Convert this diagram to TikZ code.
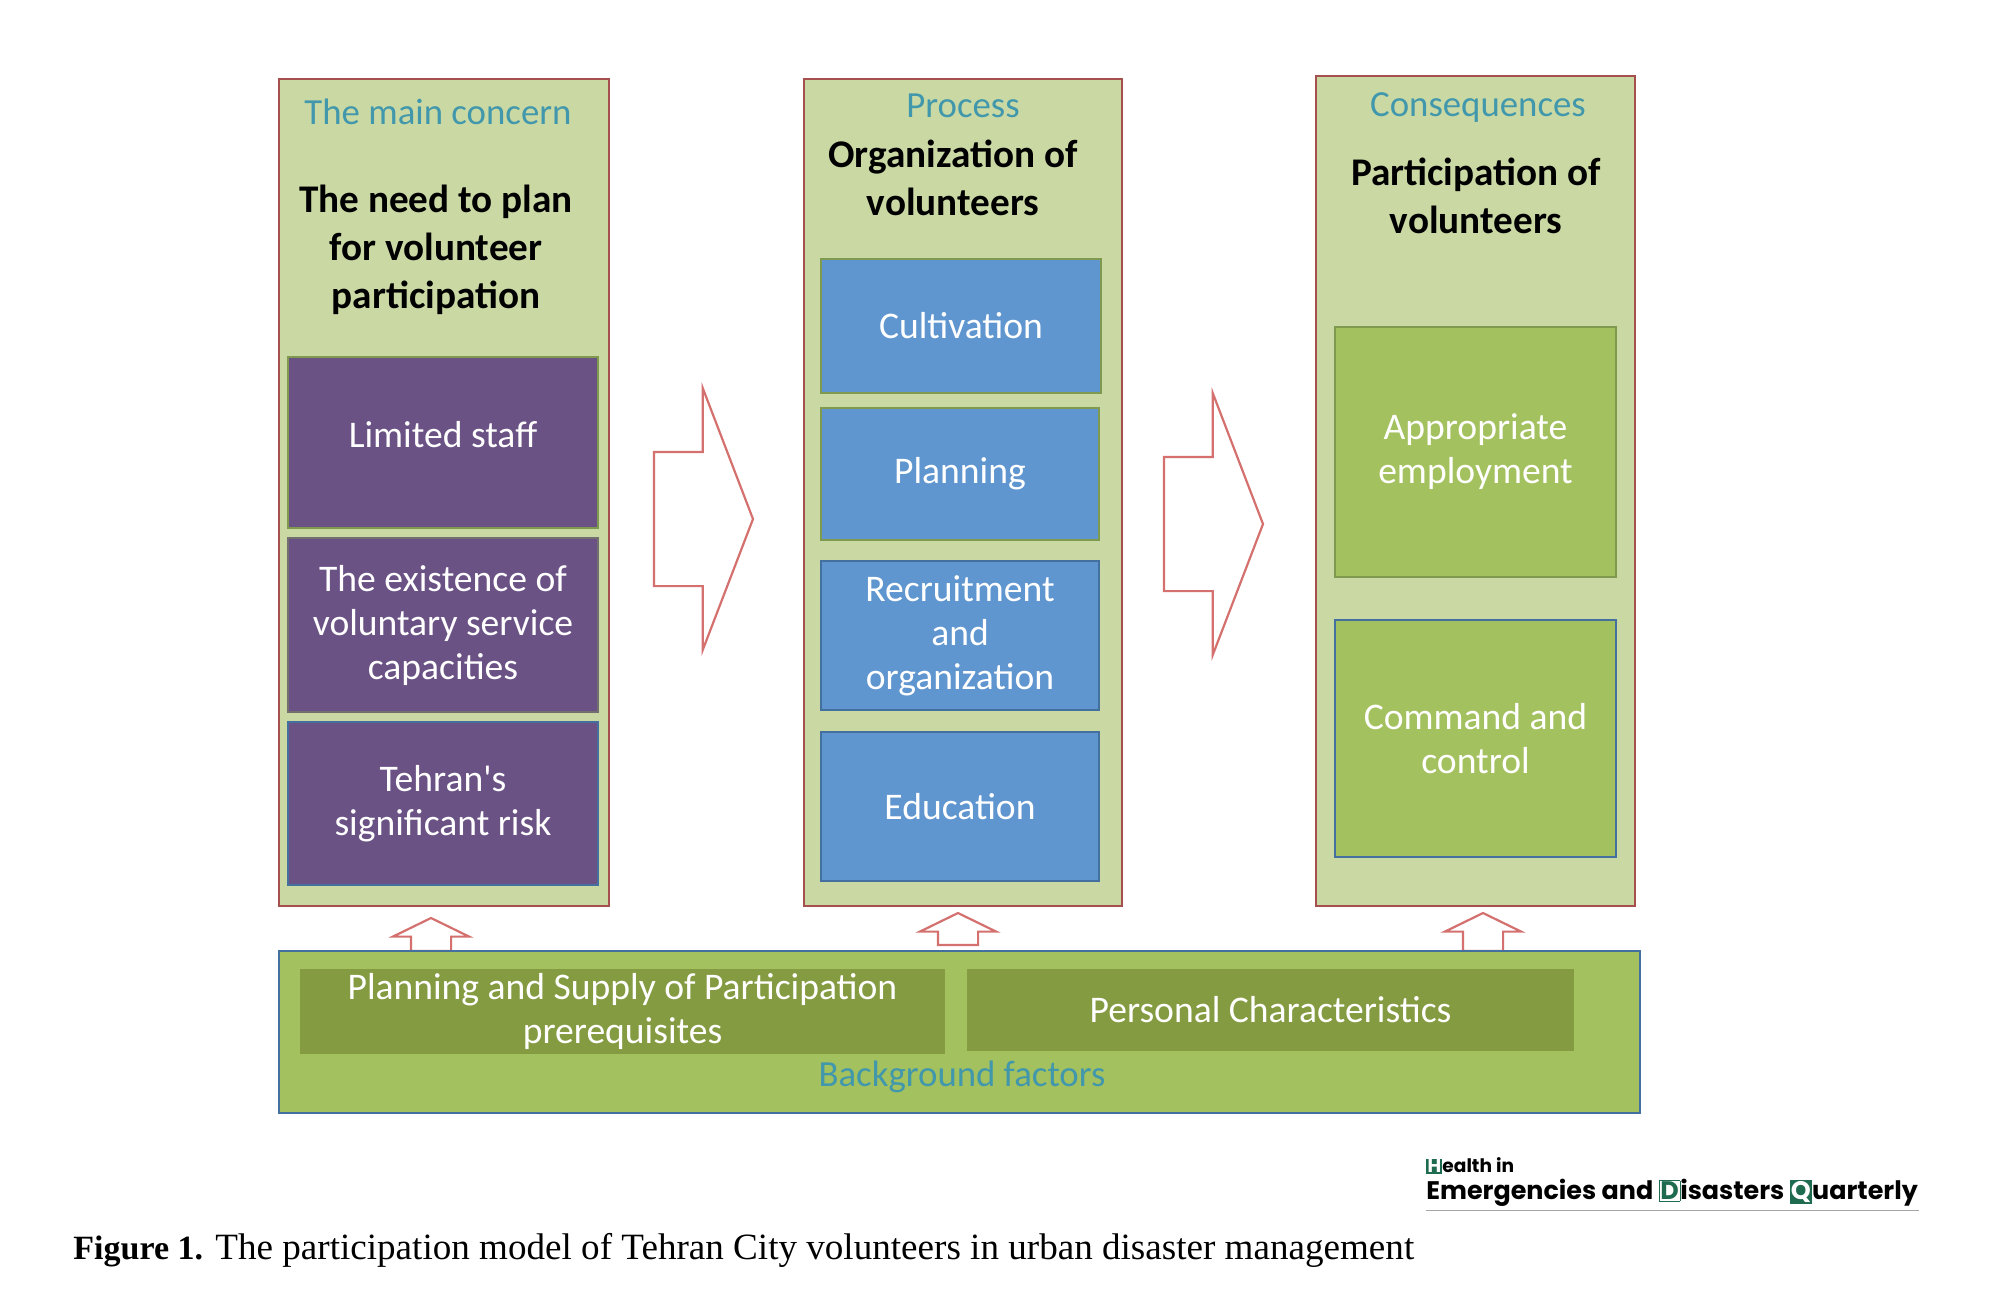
\documentclass[tikz,border=0pt]{standalone}
\usepackage{fontspec}
\setmainfont{Carlito}
\newfontfamily\capfont{Liberation Serif}
\newfontfamily\logofont{Poppins}
\usetikzlibrary{shapes.arrows, positioning}
\definecolor{panelfill}{HTML}{CAD9A4}
\definecolor{panelline}{HTML}{A5504E}
\definecolor{purplefill}{HTML}{6B5285}
\definecolor{bluefill}{HTML}{6096CF}
\definecolor{greenfill}{HTML}{A4C160}
\definecolor{darkgreen}{HTML}{849B42}
\definecolor{olive}{HTML}{7F9A4F}
\definecolor{steel}{HTML}{44709F}
\definecolor{tealtext}{HTML}{4197AB}
\definecolor{pinkline}{HTML}{D4716F}
\definecolor{logogreen}{HTML}{1F6B4F}
\newcommand{\logofill}[1]{{\fboxsep=0.6pt\colorbox{logogreen}{\textcolor{white}{#1}}}}
\newcommand{\logoline}[1]{{\fboxsep=0.4pt\fcolorbox{logogreen}{white}{\textcolor{logogreen}{#1}}}}

\begin{document}
\begin{tikzpicture}[
    x=0.5pt, y=-0.5pt,
    panel/.style={rectangle, draw=panelline, fill=panelfill, line width=1.4pt, outer sep=0pt, anchor=north west, minimum width=#1},
    inbox/.style={rectangle, line width=1.4pt, outer sep=0pt, inner sep=2pt, text=white, align=center, font=\fontsize{18.8}{22}\selectfont},
    purplebox/.style={inbox, fill=purplefill, minimum width=155pt},
    bluebox/.style={inbox, fill=bluefill, minimum width=139pt},
    greenbox/.style={inbox, fill=greenfill, minimum width=140.5pt},
    darkbox/.style={inbox, fill=darkgreen, draw=none, anchor=north west},
    headtext/.style={text=tealtext, inner sep=0pt, font=\fontsize{18.4}{22}\selectfont},
    maintext/.style={text=black, inner sep=0pt, align=center, font=\bfseries\fontsize{19.6}{24}\selectfont},
    bigarrow/.style={shape=single arrow, draw=pinkline, fill=white, line width=1.1pt, outer sep=0pt, inner xsep=0pt, inner ysep=33pt, anchor=tail, minimum height=49.5pt, minimum width=130.5pt, single arrow head extend=32pt, single arrow tip angle=138},
    uparrow/.style={shape=single arrow, rotate=90, draw=pinkline, fill=white, line width=1.1pt, outer sep=0pt, inner xsep=0pt, inner ysep=9.5pt, anchor=tail, minimum width=37pt, single arrow head extend=9pt, single arrow tip angle=128}
]
\useasboundingbox (0,0) rectangle (2000,1303);

\node[panel=165pt, minimum height=413.5pt] (concern) at (279,79) {};
\node[panel=159pt, minimum height=413.5pt] (process) at (804,79) {};
\node[panel=159.5pt, minimum height=415pt] (conseq) at (1316,76) {};

\node[headtext] (concernhead) at (438,112) {The main concern};
\node[maintext] (concernmain) at (436,250) {The need to plan\\for volunteer\\participation};
\node[headtext] (processhead) at (963,106) {Process};
\node[maintext] (processmain) at (953,178) {Organization of\\volunteers};
\node[headtext] (conseqhead) at (1478,108) {Consequences};
\node[maintext] (conseqmain) at (1476,196) {Participation of\\volunteers};

\node[purplebox, draw=olive, minimum height=85.5pt, anchor=north west, text depth=8pt] (staff) at (288,357) {Limited staff};
\node[purplebox, draw=olive!40!purplefill, minimum height=87pt, below=5pt of staff] (capacity) {The existence of\\voluntary service\\capacities};
\node[purplebox, draw=steel, minimum height=81.5pt, below=5pt of capacity] (risk) {Tehran\textquotesingle s\\significant risk};

\node[bluebox, draw=olive, minimum width=140pt, minimum height=67pt, anchor=north west] (cultivation) at (821,259) {Cultivation};
\node[bluebox, draw=olive, minimum height=66pt, anchor=north west] (planning) at (821,408) {Planning};
\node[bluebox, draw=steel, minimum height=74.5pt, below=10.5pt of planning] (recruit) {Recruitment\\and\\organization};
\node[bluebox, draw=steel, minimum height=74.5pt, below=11pt of recruit] (education) {Education};

\node[greenbox, draw=olive, minimum height=125pt, anchor=north west] (employ) at (1335,327) {Appropriate\\employment};
\node[greenbox, draw=steel, minimum height=118.5pt, below=21.5pt of employ] (command) {Command and\\control};

\node[bigarrow] (arrowa) at (654,519) {};
\node[bigarrow] (arrowb) at (1164,524) {};

\node[uparrow, minimum height=16.5pt] (upa) at (431,951) {};
\node[uparrow, minimum height=16pt] (upb) at (958,945) {};
\node[uparrow, minimum height=19pt] (upc) at (1483,951) {};

\node[panel=680.5pt, draw=steel, fill=greenfill, minimum height=81pt] (background) at (279,951) {};
\node[darkbox, minimum width=322.5pt, minimum height=42.5pt] (supply) at (300,969) {Planning and Supply of Participation\\prerequisites};
\node[darkbox, minimum width=303.5pt, minimum height=41pt] (personal) at (967,969) {Personal Characteristics};
\node[headtext] (backhead) at (962,1077) {Background factors};

\node[inner sep=0pt, anchor=west, font=\logofont\bfseries\fontsize{9.3}{10}\selectfont] (logotop) at (1426,1166) {\logofill{H}ealth in};
\node[inner sep=0pt, anchor=west, font=\logofont\bfseries\fontsize{12.7}{14}\selectfont] (logomain) at (1426,1193) {Emergencies and \logoline{D}isasters \logofill{Q}uarterly};
\coordinate (ruleleft) at (1426,1210);
\coordinate (ruleright) at (1919,1210);
\draw[gray!70, line width=0.5pt] (ruleleft) -- (ruleright);

\node[inner sep=0pt, anchor=west, font=\capfont\fontsize{18.55}{20}\selectfont] (caption) at (73,1250) {\textbf{\fontsize{17}{20}\selectfont Figure 1.} The participation model of Tehran City volunteers in urban disaster management};
\end{tikzpicture}
\end{document}
